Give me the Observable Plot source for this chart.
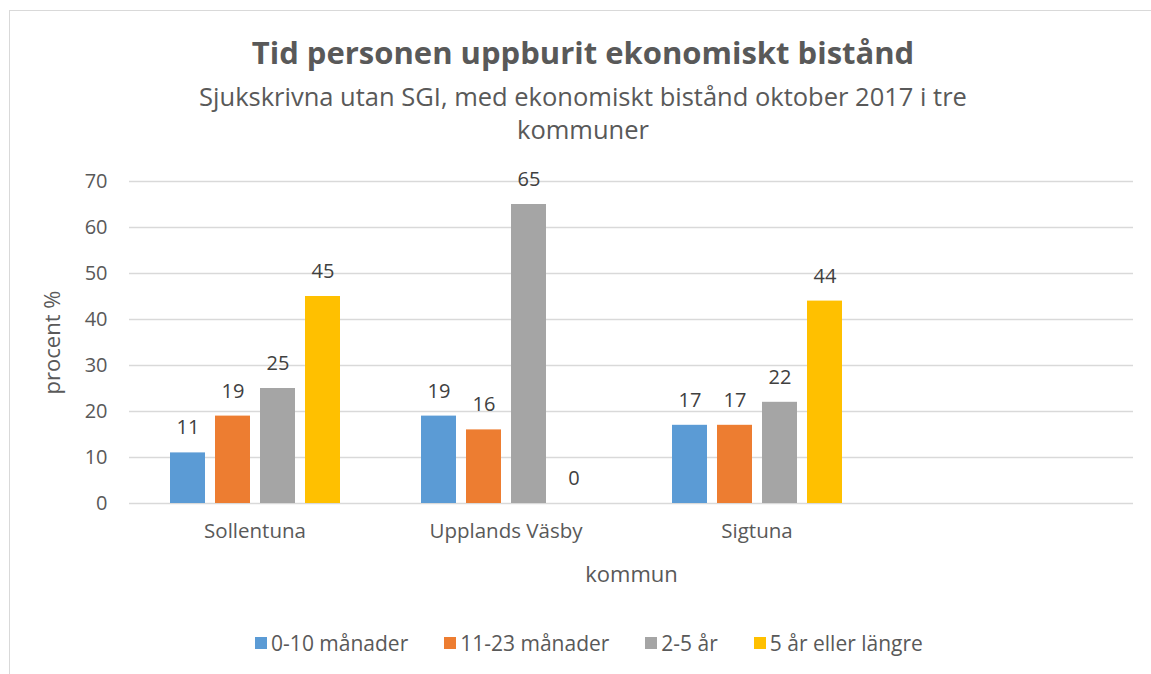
<!DOCTYPE html>
<html>
<head>
<meta charset="utf-8">
<script src="https://cdn.jsdelivr.net/npm/d3@7"></script>
<script src="https://cdn.jsdelivr.net/npm/@observablehq/plot@0.6"></script>
<style>
  html, body { margin: 0; padding: 0; background: #fff; }
  #wrap { position: relative; width: 1151px; height: 674px; overflow: hidden; font-family: "Open Sans", sans-serif; color: #595959; }
  #frame { position: absolute; left: 9px; top: 10px; width: 1300px; height: 800px; border-top: 1.5px solid #d9d9d9; border-left: 1.5px solid #d9d9d9; }
  #title { position: absolute; left: 9px; width: 1148px; top: 32px; text-align: center; font-weight: bold; font-size: 31px; line-height: 40px; }
  #subtitle { position: absolute; left: 9px; width: 1148px; top: 80px; text-align: center; font-size: 25.5px; line-height: 33px; }
  #chart { position: absolute; left: 0; top: 160px; }
  #legend { position: absolute; left: 0; width: 1178px; top: 630px; display: flex; justify-content: center; gap: 36px; font-size: 21px; line-height: 26px; }
  .item { display: flex; align-items: center; gap: 4px; }
  .sw { width: 12px; height: 12px; display: inline-block; }
</style>
</head>
<body>
<div id="wrap">
  <div id="frame"></div>
  <div id="title"></div>
  <div id="subtitle"></div>
  <div id="chart"></div>
  <div id="legend"></div>
</div>
<script>
const titleText = "Tid personen uppburit ekonomiskt bistånd";
const subtitleLines = ["Sjukskrivna utan SGI, med ekonomiskt bistånd oktober 2017 i tre", "kommuner"];
const categories = ["Sollentuna", "Upplands Väsby", "Sigtuna", " "];
const series = ["0-10 månader", "11-23 månader", "2-5 år", "5 år eller längre"];
const colors = ["#5B9BD5", "#ED7D31", "#A5A5A5", "#FFC000"];
const val0_10 = [11, 19, 17];
const val11_23 = [19, 16, 17];
const val2_5 = [25, 65, 22];
const val5plus = [45, 0, 44];
const yTicks = [0, 10, 20, 30, 40, 50, 60, 70];
const yLabel = "procent %";
const xLabel = "kommun";

const seriesValues = [val0_10, val11_23, val2_5, val5plus];
const data = [];
categories.slice(0, 3).forEach((k, i) => {
  series.forEach((s, j) => data.push({kommun: k, serie: s, value: seriesValues[j][i]}));
});
const grid = [];
categories.forEach(k => yTicks.forEach(t => grid.push({kommun: k, tick: t})));

document.getElementById("title").textContent = titleText;
document.getElementById("subtitle").innerHTML = subtitleLines.map(l => `<div>${l}</div>`).join("");

const plot = Plot.plot({
  width: 1151,
  height: 433,
  marginLeft: 129,
  marginRight: 18,
  marginTop: 21,
  marginBottom: 90,
  style: {fontFamily: "'Open Sans', sans-serif", fontSize: "20px", color: "#595959", background: "transparent"},
  fx: {domain: categories, padding: 0},
  x: {domain: series, paddingInner: 0.23, paddingOuter: 0.866, axis: null},
  y: {domain: [0, 70]},
  color: {domain: series, range: colors},
  marks: [
    Plot.ruleY(grid, {fx: "kommun", y: "tick", stroke: "#d9d9d9", strokeWidth: 1.5}),
    Plot.axisY({ticks: yTicks, tickSize: 0, tickPadding: 22, label: yLabel, labelAnchor: "center", labelArrow: "none", labelOffset: 85, fontSize: 20, fill: "#595959"}),
    Plot.axisFx({anchor: "bottom", tickSize: 0, tickPadding: 20, label: xLabel, labelAnchor: "center", labelArrow: "none", labelOffset: 78, fontSize: 20.5, fill: "#595959"}),
    Plot.barY(data, {fx: "kommun", x: "serie", y: "value", fill: "serie"}),
    Plot.text(data, {fx: "kommun", x: "serie", y: "value", text: d => String(d.value), dy: -25, lineAnchor: "middle", fontSize: 20, fill: "#404040"})
  ]
});
// enlarge the axis titles to match the reference
plot.querySelectorAll("text").forEach(t => {
  if (t.textContent === yLabel || t.textContent === xLabel) {
    t.style.fontSize = "22px";
    t.style.fill = "#595959";
  }
});
document.getElementById("chart").appendChild(plot);

document.getElementById("legend").innerHTML = series.map((s, i) =>
  `<span class="item"><span class="sw" style="background:${colors[i]}"></span><span>${s}</span></span>`).join("");
</script>
</body>
</html>
